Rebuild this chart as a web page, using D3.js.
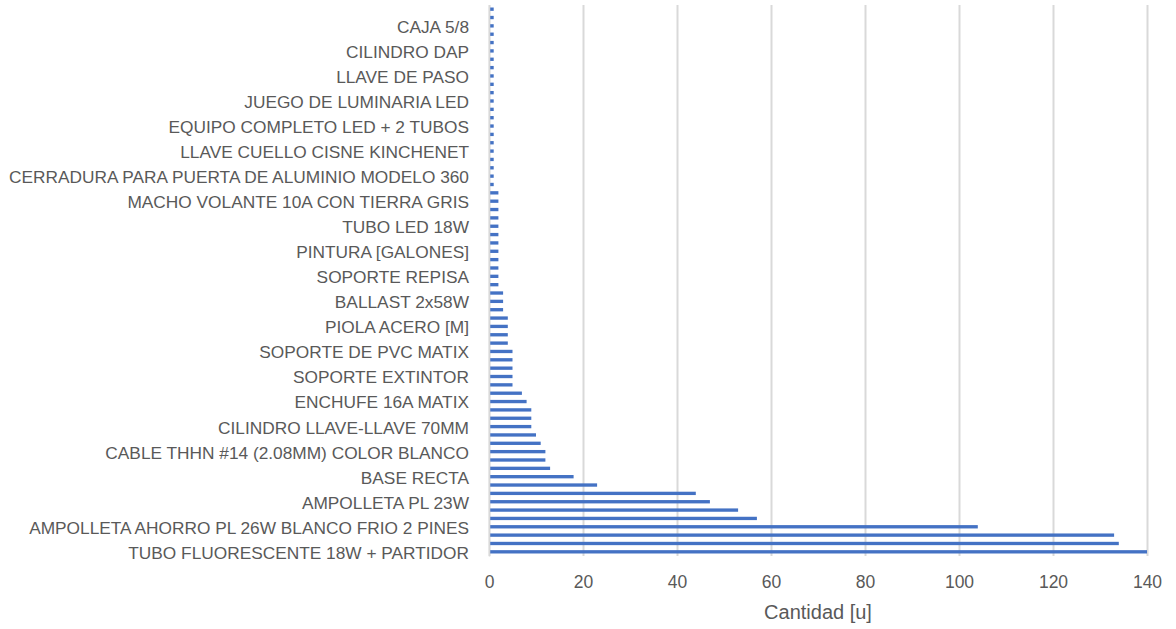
<!DOCTYPE html>
<html><head><meta charset="utf-8">
<script src="https://cdn.jsdelivr.net/npm/d3@7"></script>
<style>
body{margin:0;background:#fff;}
text{font-family:"Liberation Sans",Arial,sans-serif;fill:#595959;}
</style></head>
<body><svg id="c" width="1176" height="629"></svg>
<script>
// Categories listed bottom-to-top; only every 3rd category is labelled in the chart
const labels = [
  "TUBO FLUORESCENTE 18W + PARTIDOR",
  "AMPOLLETA AHORRO PL 26W BLANCO FRIO 2 PINES",
  "AMPOLLETA PL 23W",
  "BASE RECTA ",
  "CABLE THHN #14 (2.08MM) COLOR BLANCO",
  "CILINDRO LLAVE-LLAVE 70MM",
  "ENCHUFE 16A MATIX",
  "SOPORTE EXTINTOR",
  "SOPORTE DE PVC MATIX",
  "PIOLA ACERO [M]",
  "BALLAST 2x58W",
  "SOPORTE REPISA",
  "PINTURA [GALONES]",
  "TUBO LED 18W",
  "MACHO VOLANTE 10A CON TIERRA GRIS",
  "CERRADURA PARA PUERTA DE ALUMINIO MODELO 360",
  "LLAVE CUELLO CISNE KINCHENET",
  "EQUIPO COMPLETO LED + 2 TUBOS",
  "JUEGO DE LUMINARIA LED",
  "LLAVE DE PASO",
  "CILINDRO DAP",
  "CAJA 5/8"
];
const labelEvery = 3;
// Quantities, bottom bar first
const values = [
  140, 134, 133, 104, 57, 53, 47, 44, 23, 18,
  13, 12, 12, 11, 10, 9, 9, 9, 8, 7,
  5, 5, 5, 5, 5, 4, 4, 4, 4, 3,
  3, 3, 2, 2, 2, 2, 2, 2, 2, 2,
  2, 2, 2, 2, 1, 1, 1, 1, 1, 1,
  1, 1, 1, 1, 1, 1, 1, 1, 1, 1,
  1, 1, 1, 1, 1, 1
];
const xTicks = [0, 20, 40, 60, 80, 100, 120, 140];
const xTitle = "Cantidad [u]";

const svg = d3.select("#c");
const pLeft = 489, pRight = 1147, pTop = 5, pBottom = 556;

const x = d3.scaleLinear().domain([0, 140]).range([pLeft, pRight]);
const y = d3.scaleBand().domain(d3.range(values.length)).range([pBottom, pTop])
  .paddingInner(0.6).paddingOuter(0.3);

// gridlines
const grid = svg.append("g").attr("transform", `translate(0,${pBottom})`)
  .call(d3.axisBottom(x).tickValues(xTicks).tickSize(-(pBottom - pTop)).tickFormat(""));
grid.select(".domain").remove();
grid.selectAll("line").attr("stroke", "#d9d9d9").attr("stroke-width", 2);

// bars
svg.append("g").selectAll("rect").data(values).join("rect")
  .attr("x", x(0))
  .attr("y", (d, i) => y(i))
  .attr("width", d => x(d) - x(0))
  .attr("height", y.bandwidth())
  .attr("fill", "#4472c4");

// x tick labels
const xa = svg.append("g").attr("transform", `translate(0,${pBottom})`)
  .call(d3.axisBottom(x).tickValues(xTicks).tickSize(0).tickPadding(20));
xa.select(".domain").remove();
xa.selectAll("text").style("font-size", "17.5px").attr("fill", "#595959");

// y axis
const ya = svg.append("g").attr("transform", `translate(${pLeft},0)`)
  .call(d3.axisLeft(y).tickSize(0).tickPadding(20)
    .tickFormat(i => i % labelEvery === 0 ? labels[i / labelEvery] : ""));
ya.select(".domain").attr("stroke", "#d9d9d9").attr("stroke-width", 1.5);
ya.selectAll("text").style("font-size", "17.3px").attr("fill", "#595959")
  .attr("dy", "0.4em");

svg.append("text").attr("x", (pLeft + pRight) / 2).attr("y", 619)
  .attr("text-anchor", "middle").style("font-size", "20px").text(xTitle);
</script></body></html>
